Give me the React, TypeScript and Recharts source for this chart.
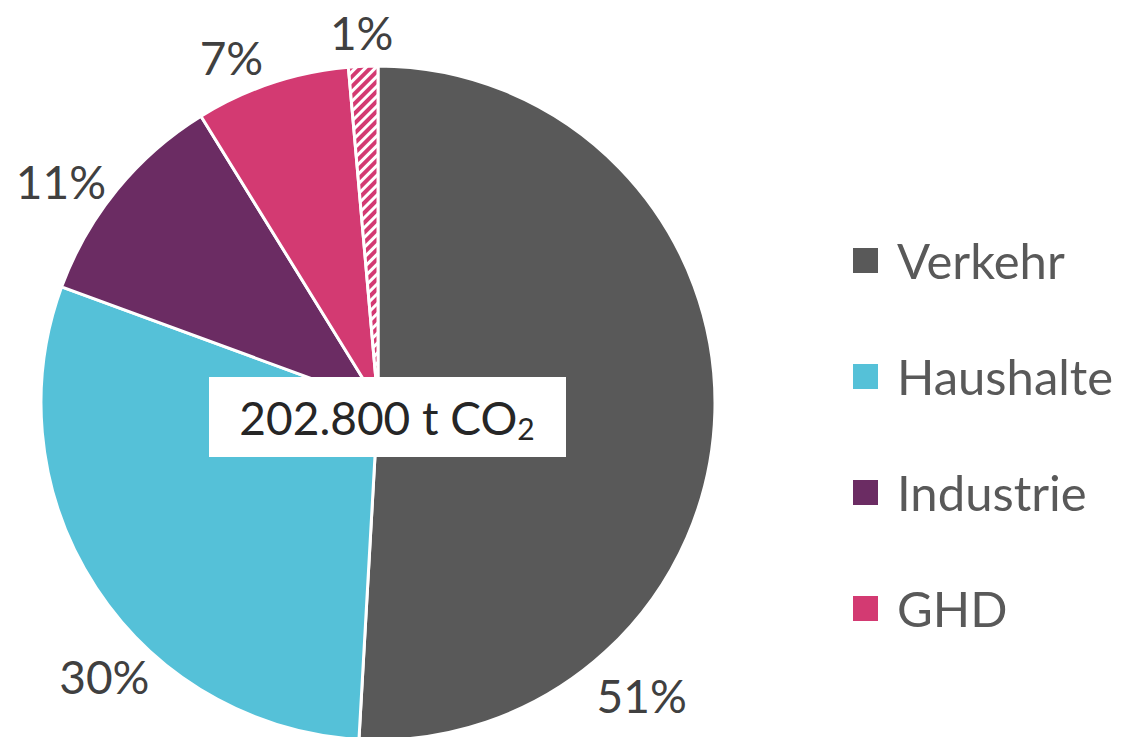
import React from 'react';
import { PieChart, Pie, Cell, Legend, Label } from 'recharts';

const categories = ['Verkehr', 'Haushalte', 'Industrie', 'GHD', 'Sonstige'];
const shares = [50.9, 29.7, 10.6, 7.4, 1.4];
const legendCategories = ['Verkehr', 'Haushalte', 'Industrie', 'GHD'];
const totalText = '202.800 t CO';
const totalSub = '2';

const data = categories.map((name, i) => ({ name, value: shares[i] }));

const COLORS = ['#595959', '#55C1D8', '#6B2C63', '#D33A72', 'url(#hatch)'];
const LEGEND_COLORS: Record<string, string> = {
  Verkehr: '#595959',
  Haushalte: '#55C1D8',
  Industrie: '#6B2C63',
  GHD: '#D33A72',
};
const FONT = 'Lato, "Open Sans", sans-serif';
const RAD = Math.PI / 180;
// best-fit style label placement: direction (deg clockwise from 12 o'clock) and offset beyond the rim
const labelAngleOverride: Record<number, number> = { 0: 138, 1: 225, 2: 305, 3: 337 };
const labelOffset = [57, 50, 50, 38, 34];

const renderLabel = (props: any) => {
  const { cx, cy, midAngle, outerRadius, index, percent } = props;
  let a = midAngle;
  if (labelAngleOverride[index] !== undefined) a = 90 - labelAngleOverride[index];
  const r = outerRadius + labelOffset[index];
  const x = cx + r * Math.cos(-a * RAD);
  const y = cy + r * Math.sin(-a * RAD);
  return (
    <text
      x={x}
      y={y}
      textAnchor="middle"
      dominantBaseline="central"
      fill="#404040"
      fontSize={46}
      fontFamily={FONT}
    >
      {`${Math.round(percent * 100)}%`}
    </text>
  );
};

const CenterBox = (props: any) => {
  const vb = props.viewBox || {};
  const cx = vb.cx ?? 378;
  const cy = vb.cy ?? 403;
  const w = 357;
  const h = 80;
  const bx = cx + 9.5 - w / 2;
  const by = cy + 14 - h / 2;
  return (
    <g>
      <rect x={bx} y={by} width={w} height={h} fill="#ffffff" />
      <text
        x={cx + 9}
        y={cy + 14}
        textAnchor="middle"
        dominantBaseline="central"
        fill="#262626"
        fontSize={46}
        fontFamily={FONT}
      >
        {totalText}
        <tspan fontSize={30} dy={11}>{totalSub}</tspan>
      </text>
    </g>
  );
};

const renderLegend = () => (
  <div style={{ fontFamily: FONT }}>
    {legendCategories.map((name) => (
      <div
        key={name}
        style={{ display: 'flex', alignItems: 'center', height: 116 }}
      >
        <div
          style={{
            width: 25,
            height: 25,
            background: LEGEND_COLORS[name],
            marginRight: 19,
            flexShrink: 0,
          }}
        />
        <span style={{ fontSize: 49, color: '#595959', lineHeight: 1 }}>{name}</span>
      </div>
    ))}
  </div>
);

export default function App() {
  return (
    <div style={{ position: 'absolute', left: 0, top: 0, width: 1133, height: 737, background: '#fff' }}>
      <PieChart width={1133} height={737} margin={{ top: 0, right: 0, bottom: 0, left: 0 }}>
        <defs>
          <pattern id="hatch" width="7" height="7" patternUnits="userSpaceOnUse" patternTransform="rotate(45)">
            <rect width="7" height="7" fill="#ffffff" />
            <rect width="4" height="7" fill="#D33A72" />
          </pattern>
        </defs>
        <Pie
          data={data}
          dataKey="value"
          nameKey="name"
          cx={378}
          cy={403}
          outerRadius={337}
          startAngle={90}
          endAngle={-270}
          stroke="#ffffff"
          strokeWidth={3}
          label={renderLabel}
          labelLine={false}
          isAnimationActive={false}
        >
          {data.map((d, i) => (
            <Cell key={d.name} fill={COLORS[i]} />
          ))}
          <Label position="center" content={<CenterBox />} />
        </Pie>
        <Legend
          content={renderLegend}
          wrapperStyle={{ position: 'absolute', left: 853, top: 202, width: 280 }}
        />
      </PieChart>
    </div>
  );
}
